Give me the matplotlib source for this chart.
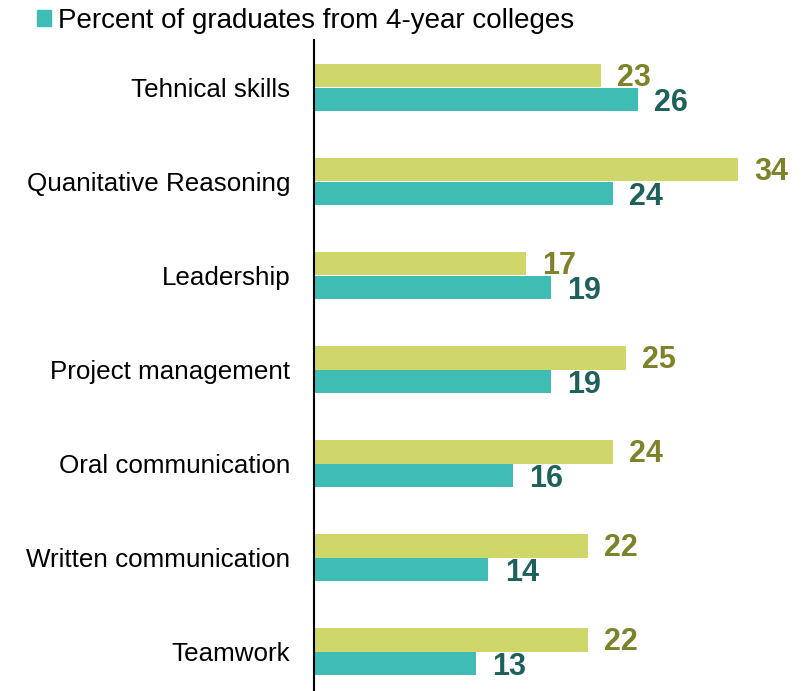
import numpy as np
import matplotlib.pyplot as plt
from matplotlib.patches import Patch

plt.rcParams['font.family'] = ['Liberation Sans', 'DejaVu Sans']

skills = ["Tehnical skills", "Quanitative Reasoning", "Leadership",
          "Project management", "Oral communication",
          "Written communication", "Teamwork"]
other_pct = [23, 34, 17, 25, 24, 22, 22]      # yellow bars
four_year_pct = [26, 24, 19, 19, 16, 14, 13]  # teal bars

yellow = "#d0d76a"
teal = "#3fbcb4"

fig = plt.figure(figsize=(8.02, 6.91), dpi=100)
# axes placed in pixel terms: left spine at x=314, top at y=40
ax = fig.add_axes([314 / 802, 0, (790 - 314) / 802, (691 - 40) / 691])

y = np.arange(len(skills))
h = 0.255
ax.barh(y - h / 2, other_pct, height=h, color=yellow)
ax.barh(y + h / 2, four_year_pct, height=h, color=teal)

for i in range(len(skills)):
    ax.text(other_pct[i] + 1.3, y[i] - h / 2 + 0.03, str(other_pct[i]),
            color="#7e8229", fontsize=22, fontweight="bold", va="center")
    ax.text(four_year_pct[i] + 1.3, y[i] + h / 2 + 0.04, str(four_year_pct[i]),
            color="#1e615c", fontsize=22, fontweight="bold", va="center")

ax.set_ylim(6 + 39.5 / 94, -47.5 / 94)
ax.set_xlim(0, 38.2)
ax.set_yticks(y)
ax.set_yticklabels(skills, fontsize=18.7)
ax.tick_params(axis="y", length=0, pad=17)
ax.set_xticks([])
for s in ["top", "right", "bottom"]:
    ax.spines[s].set_visible(False)
ax.spines["left"].set_linewidth(1.5)

fig.legend(handles=[Patch(color=teal, label="Percent of graduates from 4-year colleges")],
           loc="upper left", bbox_to_anchor=(37 / 802, 1 - 8 / 691), frameon=False,
           borderpad=0, borderaxespad=0,
           fontsize=20, handlelength=0.5, handleheight=0.5, handletextpad=0.25)

plt.savefig("out.png", dpi=100)
